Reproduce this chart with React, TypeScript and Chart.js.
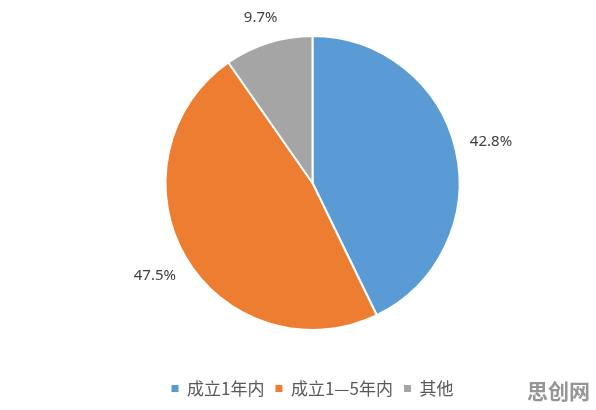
import React, { useEffect, useRef } from "react";
import { Chart, registerables } from "chart.js";

Chart.register(...registerables);

const categories = ["成立1年内", "成立1—5年内", "其他"];
const shares = [42.8, 47.5, 9.7];
const valueLabels = ["42.8%", "47.5%", "9.7%"];
const colors = ["#5B9BD5", "#ED7D31", "#A5A5A5"];
const watermark = "思创网";

const outsideLabels = {
  id: "outsideLabels",
  afterDatasetsDraw(chart: any) {
    const ctx = chart.ctx;
    const meta = chart.getDatasetMeta(0);
    ctx.save();
    ctx.font = "15px 'Noto Sans', 'DejaVu Sans', sans-serif";
    ctx.fillStyle = "#404040";
    ctx.textAlign = "center";
    ctx.textBaseline = "middle";
    meta.data.forEach((arc: any, i: number) => {
      const { x, y, startAngle, endAngle, outerRadius } = arc.getProps(
        ["x", "y", "startAngle", "endAngle", "outerRadius"],
        true
      );
      const mid = (startAngle + endAngle) / 2;
      const ux = Math.cos(mid);
      const uy = Math.sin(mid);
      const text = valueLabels[i];
      const w = ctx.measureText(text).width;
      const h = 14;
      const ext = Math.abs(ux) * w / 2 + Math.abs(uy) * h / 2;
      const d = outerRadius + 14 + ext;
      ctx.fillText(text, x + ux * d, y + uy * d);
    });
    ctx.restore();
  },
};

const watermarkPlugin = {
  id: "watermarkPlugin",
  afterDraw(chart: any) {
    const ctx = chart.ctx;
    ctx.save();
    ctx.font = "bold 21px 'Noto Sans CJK SC', sans-serif";
    ctx.fillStyle = "#959595";
    ctx.textAlign = "right";
    ctx.textBaseline = "middle";
    ctx.fillText(watermark, 590, 394);
    ctx.restore();
  },
};

export default function App() {
  const ref = useRef<HTMLCanvasElement | null>(null);
  useEffect(() => {
    if (!ref.current) return;
    const chart = new Chart(ref.current, {
      type: "pie",
      data: {
        labels: categories,
        datasets: [
          {
            data: shares,
            backgroundColor: colors,
            borderColor: "#FFFFFF",
            borderWidth: 2,
            radius: 147,
          } as any,
        ],
      },
      options: {
        animation: false,
        responsive: false,
        layout: { padding: { top: 0, left: 29, right: 0, bottom: 3 } },
        plugins: {
          tooltip: { enabled: false },
          legend: {
            position: "bottom",
            labels: {
              boxWidth: 7,
              boxHeight: 7,
              padding: 11,
              color: "#595959",
              font: { size: 17, family: "'Noto Sans CJK SC', sans-serif" },
              generateLabels: (c: any) =>
                (Chart as any).overrides.pie.plugins.legend.labels
                  .generateLabels(c)
                  .map((l: any) => ({ ...l, lineWidth: 0, strokeStyle: l.fillStyle })),
            },
          },
        },
      },
      plugins: [outsideLabels, watermarkPlugin],
    });
    return () => chart.destroy();
  }, []);
  return (
    <div style={{ position: "fixed", left: 0, top: -3, width: 596, height: 413, background: "#fff" }}>
      <canvas ref={ref} width={596} height={413} style={{ display: "block", width: 596, height: 413 }} />
    </div>
  );
}
